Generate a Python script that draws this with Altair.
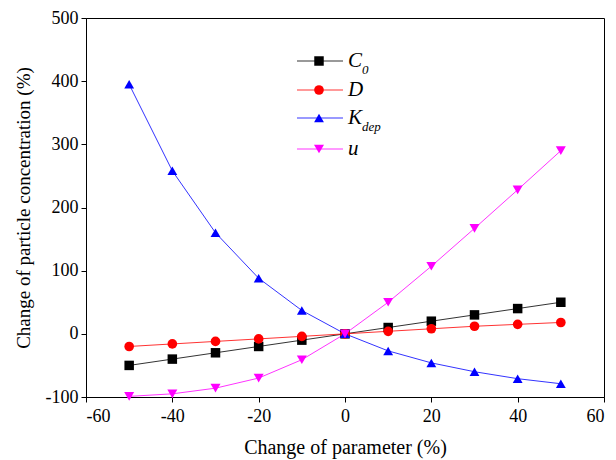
import altair as alt
import pandas as pd

x_vals = [-50, -40, -30, -20, -10, 0, 10, 20, 30, 40, 50]
c0_vals = [-50, -40, -30, -20, -10, 0, 10, 20, 30, 40, 50]
d_vals = [-20, -16, -12, -8, -4, 0, 4, 8, 12, 15, 18]
kdep_vals = [395, 258, 160, 88, 37, 0, -27, -46, -60, -71, -79]
u_vals = [-99, -95, -86, -70, -41, 0, 50, 107, 167, 228, 290]

series = ["C0", "D", "Kdep", "u"]
colors = ["#000000", "#ff0000", "#0000ff", "#ff00ff"]
shapes = ["square", "circle", "triangle-up", "triangle-down"]
sizes = [90, 100, 130, 130]

rows = []
for name, vals in zip(series, [c0_vals, d_vals, kdep_vals, u_vals]):
    for xv, yv in zip(x_vals, vals):
        rows.append({"x": xv, "y": yv, "s": name})
df = pd.DataFrame(rows)

FONT = "Liberation Serif"

xs = alt.X("x:Q", scale=alt.Scale(domain=[-60, 60], nice=False),
           axis=alt.Axis(values=[-60, -40, -20, 0, 20, 40, 60], title="Change of parameter (%)",
                         titlePadding=12, titleFontSize=20, labelPadding=5,
                         labelExpr="'' + datum.value"))
ys = alt.Y("y:Q", scale=alt.Scale(domain=[-100, 500], nice=False),
           axis=alt.Axis(values=[-100, 0, 100, 200, 300, 400, 500],
                         title="Change of particle concentration (%)", titlePadding=12,
                         titleFontSize=19, labelPadding=3,
                         labelExpr="'' + datum.value"))
col = alt.Color("s:N", scale=alt.Scale(domain=series, range=colors), legend=None)
shp = alt.Shape("s:N", scale=alt.Scale(domain=series, range=shapes), legend=None)
siz = alt.Size("s:N", scale=alt.Scale(domain=series, range=sizes), legend=None)

lines = alt.Chart(df).mark_line(strokeWidth=1, opacity=0.8).encode(x=xs, y=ys, color=col, detail="s:N")
points = alt.Chart(df).mark_point(filled=True, opacity=1).encode(
    x=xs, y=ys, color=col, shape=shp, size=siz)

# manual legend (pixel positions inside the plot area)
leg_y = [43, 72, 100, 131]
leg = pd.DataFrame({"s": series, "ly": leg_y, "x1": [211] * 4, "x2": [257] * 4, "xm": [233] * 4,
                    "tx": [262] * 4,
                    "main": ["C", "D", "K", "u"],
                    "sub": ["0", "", "dep", ""],
                    "subx": [276, 0, 276, 0]})
leg_lines = alt.Chart(leg).mark_rule(strokeWidth=1, opacity=0.8).encode(
    x=alt.X("x1:Q", scale=None), x2="x2:Q", y=alt.Y("ly:Q", scale=None), color=col)
leg_pts = alt.Chart(leg).mark_point(filled=True, opacity=1).encode(
    x=alt.X("xm:Q", scale=None), y=alt.Y("ly:Q", scale=None), color=col, shape=shp, size=siz)
leg_txt = alt.Chart(leg).mark_text(font=FONT, fontSize=21, fontStyle="italic", align="left",
                                   baseline="middle", color="black").encode(
    x=alt.X("tx:Q", scale=None), y=alt.Y("ly:Q", scale=None), text="main:N")
leg_sub = alt.Chart(leg).transform_filter("datum.sub != ''").mark_text(
    font=FONT, fontSize=13, fontStyle="italic", align="left", baseline="middle", color="black", dy=9).encode(
    x=alt.X("subx:Q", scale=None), y=alt.Y("ly:Q", scale=None), text="sub:N")

chart = alt.layer(lines, points, leg_lines, leg_pts, leg_txt, leg_sub).properties(
    width=518, height=379,
    background="white",
    autosize=alt.AutoSizeParams(type="none"),
    padding={"left": 86, "top": 18, "right": 12, "bottom": 63},
).configure_view(stroke="black", strokeWidth=1).configure_axis(
    labelFont=FONT, labelFontSize=18, labelColor="black",
    titleFont=FONT, titleFontWeight="normal", titleColor="black",
    domainColor="black", tickColor="black", tickSize=5, grid=False,
)

chart.save("out.html", embed_options={"renderer": "svg", "actions": False})
